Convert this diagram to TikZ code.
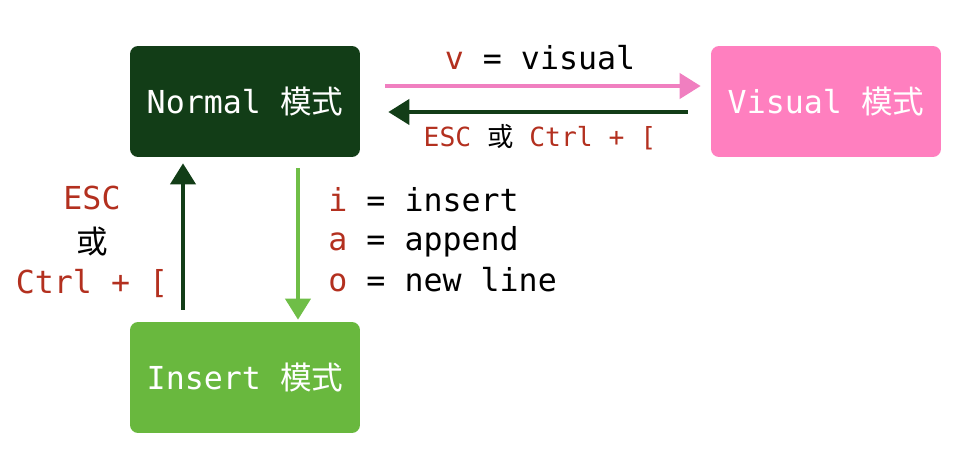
\documentclass[tikz,border=0pt]{standalone}
\usepackage{fontspec}
\setmonofont{DejaVu Sans Mono}
\newfontfamily\cjk{Noto Sans CJK SC}
\usetikzlibrary{arrows.meta}
\definecolor{normalgreen}{HTML}{123D17}
\definecolor{visualpink}{HTML}{FF7FBF}
\definecolor{insertgreen}{HTML}{69B83E}
\definecolor{keyred}{HTML}{B3301F}
\definecolor{pinkline}{HTML}{F07FC0}
\definecolor{lightline}{HTML}{6FBE47}
\newcommand{\keyc}[1]{\textcolor{keyred}{#1}}

\begin{document}
\begin{tikzpicture}[x=0.02cm, y=-0.02cm,
    mode/.style={rounded corners=0.16cm, minimum width=4.6cm, minimum height=2.22cm,
      text=white, font=\ttfamily\fontsize{18}{20}\selectfont},
    lbl/.style={inner sep=0pt, font=\ttfamily\fontsize{18}{22}\selectfont},
    trans/.style={line width=0.08cm, -{Triangle[width=0.5cm,length=0.42cm]}}]
  \useasboundingbox (0,0) rectangle (957,449);

  \node[mode, fill=normalgreen] at (245,101.5) (normal) {Normal {\cjk 模式}};
  \node[mode, fill=visualpink]  at (826,101.5) (visual) {Visual {\cjk 模式}};
  \node[mode, fill=insertgreen] at (245,377.5) (insert) {Insert {\cjk 模式}};

  \draw[trans, pinkline, shorten <=0.5cm, shorten >=0.2cm]
    ([yshift=0.31cm]normal.east) -- ([yshift=0.31cm]visual.west);
  \draw[trans, normalgreen, shorten <=0.46cm, shorten >=0.56cm]
    ([yshift=-0.21cm]visual.west) -- ([yshift=-0.21cm]normal.east);
  \draw[trans, normalgreen, shorten <=0.24cm, shorten >=0.12cm]
    ([xshift=-1.24cm]insert.north) -- ([xshift=-1.24cm]normal.south);
  \draw[trans, lightline, shorten <=0.22cm, shorten >=0.04cm]
    ([xshift=1.06cm]normal.south) -- ([xshift=1.06cm]insert.north);

  \node[lbl] at (540,58)  (tovisual)  {\keyc{v} = visual};
  \node[lbl, font=\ttfamily\fontsize{15}{18}\selectfont] at (540,137) (fromvisual)
    {\keyc{ESC} {\cjk 或} \keyc{Ctrl + [}};
  \node[lbl] at (92,198)  (escup)  {\keyc{ESC}};
  \node[lbl] at (92,242)  (orup)   {\cjk 或};
  \node[lbl] at (92,283)  (ctrlup) {\keyc{Ctrl + [}};
  \node[lbl, anchor=west] at (328,200) (ikey) {\keyc{i} = insert};
  \node[lbl, anchor=west] at (328,242) (akey) {\keyc{a} = append};
  \node[lbl, anchor=west] at (328,280) (okey) {\keyc{o} = new line};
\end{tikzpicture}
\end{document}
